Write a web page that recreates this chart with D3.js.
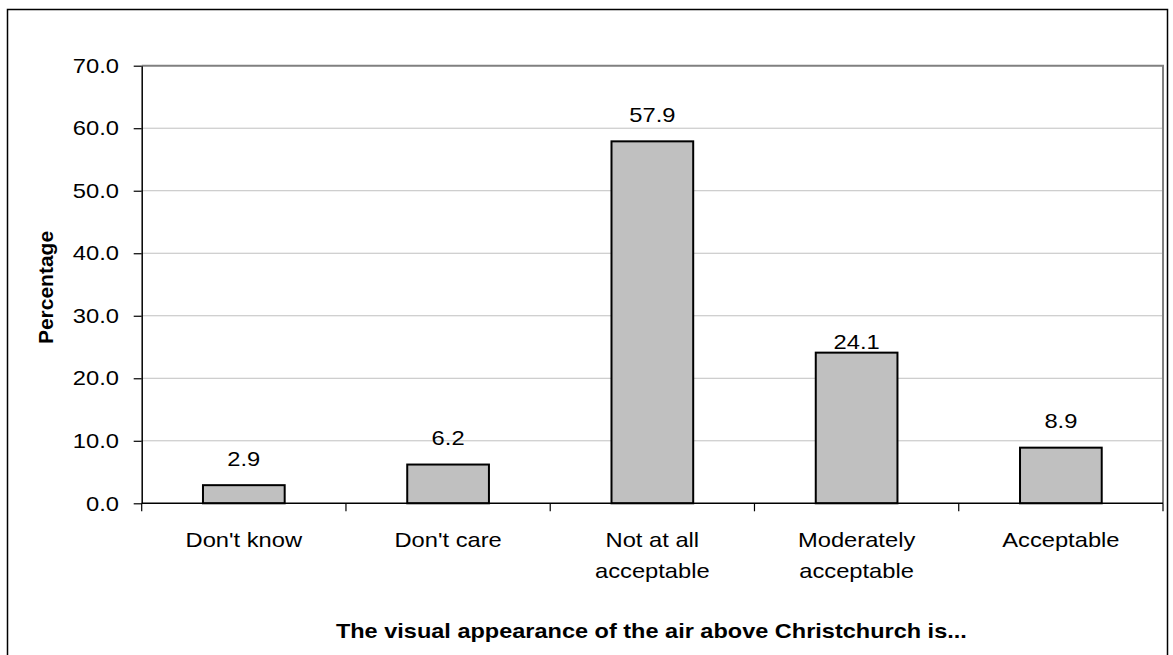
<!DOCTYPE html>
<html>
<head>
<meta charset="utf-8">
<script src="https://cdn.jsdelivr.net/npm/d3@7"></script>
<style>
  body { margin: 0; background: #fff; }
  text { font-family: "Liberation Sans", Arial, sans-serif; fill: #000; }
</style>
</head>
<body>
<div id="container"></div>
<script>
const categories = ["Don't know", "Don't care", "Not at all acceptable", "Moderately acceptable", "Acceptable"];
const values = [2.9, 6.2, 57.9, 24.1, 8.9];
const yTicks = [0, 10, 20, 30, 40, 50, 60, 70];

const width = 1173;
const height = 655;
const plot = { left: 141.7, right: 1163, top: 65.7, bottom: 503.3 };
const stretch = 1.13; // the original text is drawn a bit wider than the font

const svg = d3
  .select("#container")
  .append("svg")
  .attr("width", width)
  .attr("height", height);

// outer chart border
svg
  .append("rect")
  .attr("x", 7.5)
  .attr("y", 9.5)
  .attr("width", 1160)
  .attr("height", 680)
  .attr("fill", "none")
  .attr("stroke", "#000")
  .attr("stroke-width", 1.5);

const y = d3.scaleLinear().domain([0, 70]).range([plot.bottom, plot.top]);
const xOuter = d3.scaleBand().domain(categories).range([plot.left, plot.right]);
const x = d3
  .scaleBand()
  .domain(categories)
  .range([plot.left, plot.right])
  .paddingInner(0.6)
  .paddingOuter(0.3);

// gridlines
svg
  .append("g")
  .selectAll("line")
  .data(yTicks.filter((t) => t > 0 && t < 70))
  .join("line")
  .attr("x1", plot.left)
  .attr("x2", plot.right)
  .attr("y1", (d) => y(d))
  .attr("y2", (d) => y(d))
  .attr("stroke", "#c0c0c0")
  .attr("stroke-width", 1);

// plot frame, top and right
svg
  .append("path")
  .attr("d", `M${plot.left},${y(70)}H${plot.right}V${plot.bottom}`)
  .attr("fill", "none")
  .attr("stroke", "#808080")
  .attr("stroke-width", 2);

// bars
svg
  .append("g")
  .selectAll("rect")
  .data(values)
  .join("rect")
  .attr("x", (d, i) => x(categories[i]))
  .attr("y", (d) => y(d))
  .attr("width", x.bandwidth())
  .attr("height", (d) => y(0) - y(d))
  .attr("fill", "#c0c0c0")
  .attr("stroke", "#000")
  .attr("stroke-width", 2);

// value labels (the 24.1 label sits right on its bar in the original)
const lift = (i) => (categories[i] === "Moderately acceptable" ? 4 : 19.5);
svg
  .append("g")
  .selectAll("text")
  .data(values)
  .join("text")
  .attr("text-anchor", "middle")
  .attr("font-size", 21)
  .attr(
    "transform",
    (d, i) =>
      `translate(${x(categories[i]) + x.bandwidth() / 2},${y(d) - lift(i)}) scale(${stretch},1)`
  )
  .text((d) => d3.format(".1f")(d));

// y axis
const yAxis = svg
  .append("g")
  .attr("transform", `translate(${plot.left},0)`)
  .call(
    d3.axisLeft(y).tickValues(yTicks).tickFormat(d3.format(".1f")).tickSize(8).tickSizeOuter(0)
  );
yAxis.select(".domain").attr("stroke", "#000").attr("stroke-width", 1.5);
yAxis.selectAll(".tick line").attr("stroke", "#000").attr("stroke-width", 1.2);
yAxis
  .selectAll(".tick text")
  .attr("x", 0)
  .attr("font-size", 21)
  .attr("font-family", "Liberation Sans, Arial, sans-serif")
  .attr("fill", "#000")
  .attr("transform", `translate(-22.7,0) scale(${stretch},1)`);

// x axis with ticks on category boundaries
svg
  .append("line")
  .attr("x1", plot.left)
  .attr("x2", plot.right)
  .attr("y1", y(0))
  .attr("y2", y(0))
  .attr("stroke", "#000")
  .attr("stroke-width", 1.5);

const bounds = categories.map((c) => xOuter(c)).concat([plot.right]);
svg
  .append("g")
  .selectAll("line")
  .data(bounds)
  .join("line")
  .attr("x1", (d) => d)
  .attr("x2", (d) => d)
  .attr("y1", y(0))
  .attr("y2", y(0) + 8)
  .attr("stroke", "#000")
  .attr("stroke-width", 1.2);

// category labels, long ones wrap before the last word
const lines = (label) => {
  const words = label.split(" ");
  if (label.length > 12 && words.length > 1) {
    return [words.slice(0, -1).join(" "), words[words.length - 1]];
  }
  return [label];
};

const catLabels = svg
  .append("g")
  .selectAll("text")
  .data(categories)
  .join("text")
  .attr("text-anchor", "middle")
  .attr("font-size", 21)
  .attr("transform", (d) => `translate(${xOuter(d) + xOuter.bandwidth() / 2},546.7) scale(${stretch},1)`);
catLabels
  .selectAll("tspan")
  .data((d) => lines(d))
  .join("tspan")
  .attr("x", 0)
  .attr("y", (d, i) => i * 31.6)
  .text((d) => d);

// axis titles
svg
  .append("text")
  .attr("text-anchor", "middle")
  .attr("font-size", 21)
  .attr("font-weight", "bold")
  .attr("transform", `translate(${(plot.left + plot.right) / 2 - 1},638.3) scale(${stretch - 0.01},1)`)
  .text("The visual appearance of the air above Christchurch is...");

svg
  .append("text")
  .attr("text-anchor", "middle")
  .attr("font-size", 21)
  .attr("font-weight", "bold")
  .attr("transform", "translate(53,287.5) rotate(-90)")
  .text("Percentage");
</script>
</body>
</html>
